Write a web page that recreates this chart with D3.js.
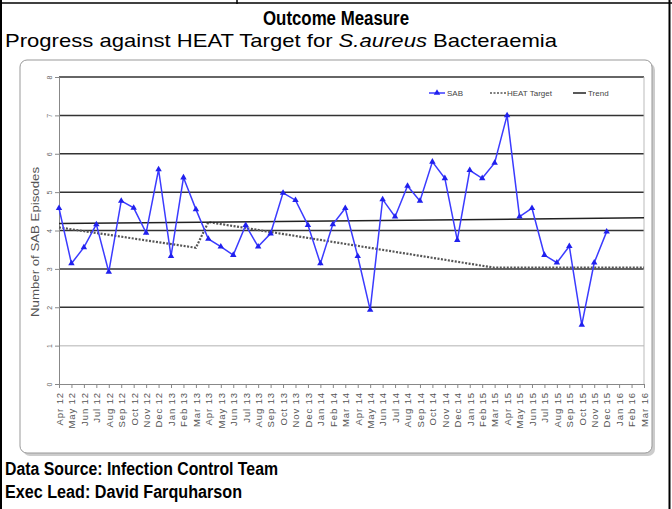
<!DOCTYPE html>
<html>
<head>
<meta charset="utf-8">
<script src="https://cdn.jsdelivr.net/npm/d3@7"></script>
<style>
  body { margin: 0; background: #fff; }
  svg { display: block; font-family: "Liberation Sans", Arial, sans-serif; }
</style>
</head>
<body>
<div class="graphic"></div>
<script>
let months = ["Apr 12","May 12","Jun 12","Jul 12","Aug 12","Sep 12","Oct 12","Nov 12","Dec 12","Jan 13","Feb 13","Mar 13",
              "Apr 13","May 13","Jun 13","Jul 13","Aug 13","Sep 13","Oct 13","Nov 13","Dec 13","Jan 14","Feb 14","Mar 14",
              "Apr 14","May 14","Jun 14","Jul 14","Aug 14","Sep 14","Oct 14","Nov 14","Dec 14","Jan 15","Feb 15","Mar 15",
              "Apr 15","May 15","Jun 15","Jul 15","Aug 15","Sep 15","Oct 15","Nov 15","Dec 15","Jan 16","Feb 16","Mar 16"];
let sab = [4.58,3.14,3.56,4.16,2.92,4.77,4.59,3.94,5.59,3.33,5.38,4.55,
           3.78,3.58,3.36,4.14,3.58,3.92,4.98,4.79,4.14,3.14,4.16,4.58,
           3.33,1.93,4.81,4.36,5.16,4.77,5.79,5.36,3.75,5.57,5.36,5.76,
           7.0,4.36,4.58,3.36,3.16,3.59,1.54,3.16,3.97];
let targetMonths = ["Apr 12","Mar 13","Apr 13","Mar 15","Mar 16"];
let targetValues = [4.08,3.55,4.22,3.03,3.03];
let trendMonths = ["Apr 12","Mar 16"];
let trendValues = [4.18,4.33];
let yTicks = [0,1,2,3,4,5,6,7,8];

let svg = d3.select(".graphic")
            .append("svg")
            .attr("width", 672)
            .attr("height", 509);

// outer table frame
svg.append("line").attr("x1", 1).attr("y1", 0).attr("x2", 1).attr("y2", 509)
   .attr("stroke", "#000").attr("stroke-width", 2);
svg.append("line").attr("x1", 669.5).attr("y1", 0).attr("x2", 669.5).attr("y2", 509)
   .attr("stroke", "#000").attr("stroke-width", 2);
svg.append("line").attr("x1", 0).attr("y1", 3).attr("x2", 672).attr("y2", 3)
   .attr("stroke", "#000").attr("stroke-width", 1.5);
svg.append("line").attr("x1", 237).attr("y1", 0).attr("x2", 237).attr("y2", 4)
   .attr("stroke", "#000").attr("stroke-width", 1.5);

svg.append("text").attr("x", 336).attr("y", 25)
   .attr("text-anchor", "middle").attr("font-size", 20).attr("font-weight", "bold")
   .attr("textLength", 146).attr("lengthAdjust", "spacingAndGlyphs")
   .text("Outcome Measure");

let sub = svg.append("text").attr("x", 5).attr("y", 47).attr("font-size", 19)
   .attr("textLength", 552).attr("lengthAdjust", "spacingAndGlyphs");
sub.append("tspan").text("Progress against HEAT Target for ");
sub.append("tspan").attr("font-style", "italic").text("S.aureus");
sub.append("tspan").text(" Bacteraemia");

svg.append("text").attr("x", 5).attr("y", 475).attr("font-size", 18).attr("font-weight", "bold")
   .attr("textLength", 273).attr("lengthAdjust", "spacingAndGlyphs")
   .text("Data Source: Infection Control Team");
svg.append("text").attr("x", 5).attr("y", 498).attr("font-size", 18).attr("font-weight", "bold")
   .attr("textLength", 237).attr("lengthAdjust", "spacingAndGlyphs")
   .text("Exec Lead: David Farquharson");

// chart box with a soft shadow
svg.append("rect").attr("x", 23).attr("y", 63).attr("width", 632).attr("height", 393)
   .attr("rx", 7).attr("fill", "#ccc");
svg.append("rect").attr("x", 20).attr("y", 60).attr("width", 632).attr("height", 393)
   .attr("rx", 7).attr("fill", "#fff").attr("stroke", "#999").attr("stroke-width", 1);

let x = d3.scalePoint().domain(months).range([59, 644]);
let y = d3.scaleLinear().domain([0, 8]).range([384, 77]);

// gridlines
svg.append("g").selectAll("line").data(yTicks.filter(d => d > 0)).join("line")
   .attr("x1", 59).attr("x2", 644)
   .attr("y1", d => y(d)).attr("y2", d => y(d))
   .attr("stroke", d => d === 1 ? "#ccc" : "#333")
   .attr("stroke-width", 1.5);

// right edge
svg.append("line").attr("x1", 644).attr("x2", 644).attr("y1", y(8)).attr("y2", y(0))
   .attr("stroke", "#bbb");

// y axis
let yAxis = svg.append("g").attr("transform", "translate(59,0)")
   .call(d3.axisLeft(y).tickValues(yTicks).tickSize(4).tickFormat(d3.format("d")));
yAxis.select(".domain").attr("stroke", "#888");
yAxis.selectAll(".tick line").attr("stroke", "#888");
yAxis.selectAll(".tick text")
   .attr("font-size", 7).attr("fill", "#666").attr("x", null).attr("dy", null)
   .attr("text-anchor", "middle")
   .attr("transform", "translate(-7,0) rotate(-90)");

// x axis
let xAxis = svg.append("g").attr("transform", "translate(0," + y(0) + ")")
   .call(d3.axisBottom(x).tickSize(4).tickSizeOuter(0));
xAxis.select(".domain").attr("stroke", "#888");
xAxis.selectAll(".tick line").attr("stroke", "#888");
xAxis.selectAll(".tick text")
   .attr("font-size", 9.5).attr("fill", "#555").attr("letter-spacing", 0.9)
   .attr("text-anchor", "end").attr("y", null).attr("dy", "0.35em")
   .attr("transform", "translate(0,8) rotate(-90)");

svg.append("text")
   .attr("transform", "translate(39,242) rotate(-90)")
   .attr("text-anchor", "middle").attr("font-size", 10).attr("fill", "#555")
   .attr("textLength", 150).attr("lengthAdjust", "spacingAndGlyphs")
   .text("Number of SAB Episodes");

// HEAT target
svg.append("path")
   .datum(targetMonths.map((m, i) => [m, targetValues[i]]))
   .attr("fill", "none").attr("stroke", "#555").attr("stroke-width", 2.2)
   .attr("stroke-dasharray", "2,1.5")
   .attr("d", d3.line().x(d => x(d[0])).y(d => y(d[1])));

// trend
svg.append("path")
   .datum(trendMonths.map((m, i) => [m, trendValues[i]]))
   .attr("fill", "none").attr("stroke", "#222").attr("stroke-width", 1.5)
   .attr("d", d3.line().x(d => x(d[0])).y(d => y(d[1])));

// SAB series
let sabData = sab.map((v, i) => [months[i], v]);
svg.append("path").datum(sabData)
   .attr("fill", "none").attr("stroke", "#3b3bff").attr("stroke-width", 1.5)
   .attr("d", d3.line().x(d => x(d[0])).y(d => y(d[1])));
svg.append("g").selectAll("path").data(sabData).join("path")
   .attr("transform", d => "translate(" + x(d[0]) + "," + y(d[1]) + ")")
   .attr("d", d3.symbol(d3.symbolTriangle, 18))
   .attr("fill", "#2020ee");

// legend
let lg = svg.append("g").attr("font-size", 8).attr("fill", "#444");
lg.append("line").attr("x1", 429).attr("x2", 445).attr("y1", 93).attr("y2", 93)
  .attr("stroke", "#3b3bff").attr("stroke-width", 1.5);
lg.append("path").attr("transform", "translate(437,93)")
  .attr("d", d3.symbol(d3.symbolTriangle, 18)).attr("fill", "#2020ee");
lg.append("text").attr("x", 447).attr("y", 96).text("SAB");
lg.append("line").attr("x1", 490).attr("x2", 506).attr("y1", 93).attr("y2", 93)
  .attr("stroke", "#555").attr("stroke-width", 1.5).attr("stroke-dasharray", "2,1.5");
lg.append("text").attr("x", 507).attr("y", 96).text("HEAT Target");
lg.append("line").attr("x1", 573).attr("x2", 586).attr("y1", 93).attr("y2", 93)
  .attr("stroke", "#222").attr("stroke-width", 1.5);
lg.append("text").attr("x", 588).attr("y", 96).text("Trend");
</script>
</body>
</html>
